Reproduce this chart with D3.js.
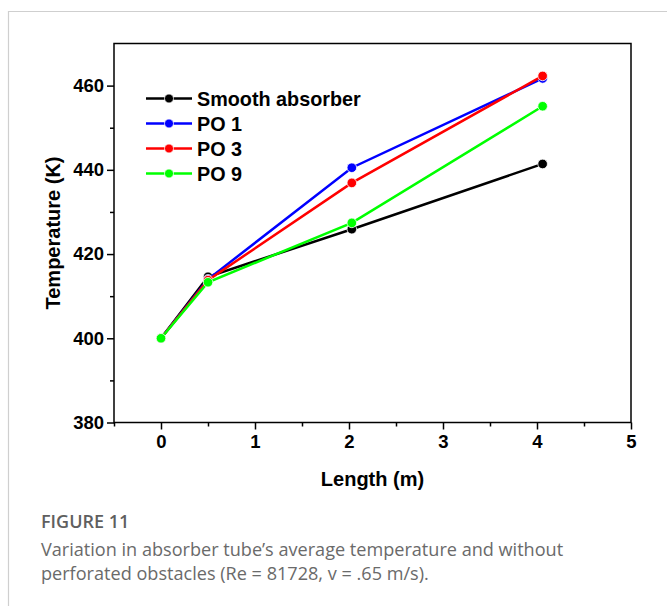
<!DOCTYPE html>
<html>
<head>
<meta charset="utf-8">
<script src="https://cdn.jsdelivr.net/npm/d3@7"></script>
<style>
  body { margin: 0; background: #fff; }
  svg { display: block; }
</style>
</head>
<body>
<div id="chart"></div>
<script>
// data
const lengths = [0, 0.5, 2.03, 4.06];
const smooth = [400, 414.6, 425.9, 441.4];
const po1 = [400, 414.0, 440.5, 461.7];
const po3 = [400, 413.8, 436.9, 462.3];
const po9 = [400, 413.3, 427.4, 455.1];
const seriesNames = ["Smooth absorber", "PO 1", "PO 3", "PO 9"];
const seriesColors = ["#000000", "#0000ff", "#ff0000", "#00ff00"];
const xTicks = [0, 1, 2, 3, 4, 5];
const yTicks = [380, 400, 420, 440, 460];

const width = 667;
const height = 606;
const margin = { top: 43.5, left: 114, right: 36, bottom: 183.5 };

const svg = d3.select("#chart")
  .append("svg")
  .attr("width", width)
  .attr("height", height);

// page frame
svg.append("path")
  .attr("d", `M8.5,${height} V11.5 H${width}`)
  .attr("fill", "none")
  .attr("stroke", "#cfcfcf")
  .attr("stroke-width", 1.2);

const x = d3.scaleLinear()
  .domain([-0.5, 5])
  .range([margin.left, width - margin.right]);
const y = d3.scaleLinear()
  .domain([380, 470])
  .range([height - margin.bottom, margin.top]);

const font = "'Liberation Sans', Arial, sans-serif";

// frame box
svg.append("rect")
  .attr("x", x(-0.5))
  .attr("y", y(470))
  .attr("width", x(5) - x(-0.5))
  .attr("height", y(380) - y(470))
  .attr("fill", "none")
  .attr("stroke", "#000")
  .attr("stroke-width", 1.5);

// x axis
const xAxis = svg.append("g")
  .attr("transform", `translate(0,${y(380)})`)
  .call(d3.axisBottom(x).tickValues(xTicks).tickSize(7).tickPadding(5).tickFormat(d3.format("d")))
  .call((g) => g.select(".domain").remove());
xAxis.selectAll("line").attr("stroke-width", 1.5);
xAxis.selectAll("text")
  .attr("font-family", font)
  .attr("font-weight", "bold")
  .attr("font-size", 18.5)
  .attr("fill", "#000");
svg.append("g")
  .attr("transform", `translate(0,${y(380)})`)
  .call(d3.axisBottom(x).tickValues([-0.5, 0.5, 1.5, 2.5, 3.5, 4.5]).tickSize(4).tickFormat(""))
  .call((g) => g.select(".domain").remove())
  .selectAll("line").attr("stroke-width", 1.5);

// y axis
const yAxis = svg.append("g")
  .attr("transform", `translate(${x(-0.5)},0)`)
  .call(d3.axisLeft(y).tickValues(yTicks).tickSize(7).tickPadding(3))
  .call((g) => g.select(".domain").remove());
yAxis.selectAll("line").attr("stroke-width", 1.5);
yAxis.selectAll("text")
  .attr("font-family", font)
  .attr("font-weight", "bold")
  .attr("font-size", 18.5)
  .attr("fill", "#000");
svg.append("g")
  .attr("transform", `translate(${x(-0.5)},0)`)
  .call(d3.axisLeft(y).tickValues([390, 410, 430, 450]).tickSize(4).tickFormat(""))
  .call((g) => g.select(".domain").remove())
  .selectAll("line").attr("stroke-width", 1.5);

// axis titles
svg.append("text")
  .attr("x", (x(-0.5) + x(5)) / 2)
  .attr("y", 486)
  .attr("text-anchor", "middle")
  .attr("font-family", font)
  .attr("font-weight", "bold")
  .attr("font-size", 20)
  .text("Length (m)");
svg.append("text")
  .attr("transform", `translate(60,${(y(380) + y(470)) / 2}) rotate(-90)`)
  .attr("text-anchor", "middle")
  .attr("font-family", font)
  .attr("font-weight", "bold")
  .attr("font-size", 20)
  .text("Temperature (K)");

// series
const allSeries = [smooth, po1, po3, po9].map((vals, i) => ({
  name: seriesNames[i],
  color: seriesColors[i],
  points: vals.map((v, j) => ({ x: lengths[j], y: v })),
}));

const line = d3.line().x((d) => x(d.x)).y((d) => y(d.y));

allSeries.forEach((s) => {
  const g = svg.append("g");
  g.append("path")
    .datum(s.points)
    .attr("d", line)
    .attr("fill", "none")
    .attr("stroke", s.color)
    .attr("stroke-width", 2.5);
  g.selectAll("circle")
    .data(s.points)
    .join("circle")
    .attr("cx", (d) => x(d.x))
    .attr("cy", (d) => y(d.y))
    .attr("r", 4.8)
    .attr("fill", s.color)
    .attr("stroke", "#fff")
    .attr("stroke-width", 0.8);
});

// legend
const legend = svg.append("g").attr("transform", "translate(146,98.5)");
allSeries.forEach((s, i) => {
  const row = legend.append("g").attr("transform", `translate(0,${i * 25})`);
  row.append("line")
    .attr("x1", 0).attr("x2", 46)
    .attr("stroke", s.color)
    .attr("stroke-width", 2.5);
  row.append("circle")
    .attr("cx", 23).attr("r", 4.5)
    .attr("fill", s.color)
    .attr("stroke", "#fff")
    .attr("stroke-width", 0.8);
  row.append("text")
    .attr("x", 51)
    .attr("dy", "0.36em")
    .attr("font-family", font)
    .attr("font-weight", "bold")
    .attr("font-size", 19.8)
    .text(s.name);
});

// caption
const cap = "'Open Sans', Lato, sans-serif";
svg.append("text")
  .attr("x", 41).attr("y", 528)
  .attr("font-family", cap)
  .attr("font-weight", 600)
  .attr("font-size", 18)
  .attr("fill", "#5f5f5f")
  .text("FIGURE 11");
svg.append("text")
  .attr("x", 41).attr("y", 556)
  .attr("font-family", cap)
  .attr("font-size", 18.1)
  .attr("fill", "#6a6a6a")
  .text("Variation in absorber tube\u2019s average temperature and without");
svg.append("text")
  .attr("x", 41).attr("y", 580)
  .attr("font-family", cap)
  .attr("font-size", 18.1)
  .attr("fill", "#6a6a6a")
  .text("perforated obstacles (Re = 81728, v = .65 m/s).");
</script>
</body>
</html>
